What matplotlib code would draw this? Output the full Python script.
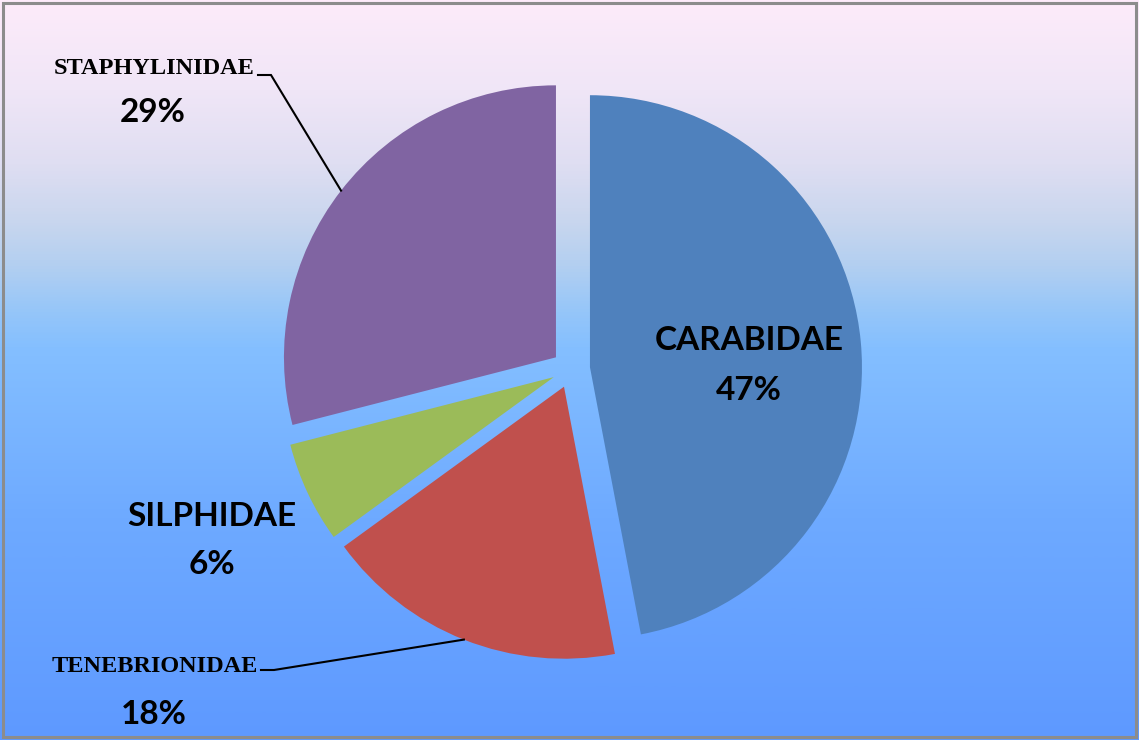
import numpy as np
import matplotlib.pyplot as plt
from matplotlib.colors import LinearSegmentedColormap
from matplotlib.patches import Rectangle

# data
families = ["CARABIDAE", "TENEBRIONIDAE", "SILPHIDAE", "STAPHYLINIDAE"]
shares = [47, 18, 6, 29]
colors = ["#4F81BD", "#C0504D", "#9BBB59", "#8064A2"]

W, H = 1139, 740
fig = plt.figure(figsize=(W / 100, H / 100), dpi=100)

# gradient background
bg = fig.add_axes([0, 0, 1, 1], zorder=0)
stops = [(0.0, (253, 235, 250)), (0.12, (240, 230, 247)), (0.22, (223, 222, 242)),
         (0.3, (200, 214, 238)), (0.36, (178, 207, 241)), (0.42, (150, 198, 249)),
         (0.47, (132, 191, 255)), (0.7, (110, 170, 255)), (1.0, (94, 153, 255))]
cmap = LinearSegmentedColormap.from_list(
    "bg", [(p, tuple(c / 255 for c in rgb)) for p, rgb in stops])
grad = np.linspace(0, 1, 512).reshape(-1, 1)
bg.imshow(grad, aspect="auto", cmap=cmap, extent=[0, 1, 1, 0])
bg.set_xlim(0, 1)
bg.set_ylim(1, 0)
bg.axis("off")
bg.add_patch(Rectangle((3 / W, 3 / H), 1 - 6 / W, 1 - 6 / H, transform=fig.transFigure,
                       fill=False, edgecolor="#8c8c8c", lw=2.2))

# pie axes: unit radius = 272 px, centre at (571, 369) px
R = 272.0
cx, cy = 571.0, 369.0
ax = fig.add_axes([0, 0, 1, 1], zorder=1)
ax.patch.set_alpha(0)
wedges, _ = ax.pie(shares, colors=colors, startangle=90, counterclock=False,
                   explode=[0.07] * 4, radius=1.0,
                   wedgeprops=dict(linewidth=0))
ax.set_xlim(-cx / R, (W - cx) / R)
ax.set_ylim(-(H - cy) / R, cy / R)
ax.set_aspect("auto")
ax.axis("off")

sans = ["Lato", "DejaVu Sans"]
serif = ["Liberation Serif", "DejaVu Serif"]


def px(x, y):
    return (x - cx) / R, (cy - y) / R


def edge_point(w):
    mid = np.deg2rad((w.theta1 + w.theta2) / 2)
    x0, y0 = w.center
    return x0 + w.r * np.cos(mid), y0 + w.r * np.sin(mid)


# CARABIDAE inside
ax.text(*px(749, 340), families[0], ha="center", va="center", fontsize=24,
        fontweight="bold", family=sans)
ax.text(*px(749, 390), f"{shares[0]}%", ha="center", va="center", fontsize=24,
        fontweight="bold", family=sans)

# SILPHIDAE outside
ax.text(*px(212, 517), families[2], ha="center", va="center", fontsize=24,
        fontweight="bold", family=sans)
ax.text(*px(212, 564), f"{shares[2]}%", ha="center", va="center", fontsize=24,
        fontweight="bold", family=sans)

# STAPHYLINIDAE with leader
ax.text(*px(154, 69), families[3], ha="center", va="center", fontsize=17.5,
        fontweight="bold", family=serif)
ax.text(*px(153, 113), f"{shares[3]}%", ha="center", va="center", fontsize=24,
        fontweight="bold", family=sans)
ex, ey = edge_point(wedges[3])
s0, s1 = px(258, 75), px(271, 75)
ax.plot([s0[0], s1[0], ex], [s0[1], s1[1], ey], color="black", lw=1.5,
        solid_joinstyle="miter")

# TENEBRIONIDAE with leader
ax.text(*px(155, 667), families[1], ha="center", va="center", fontsize=17.5,
        fontweight="bold", family=serif)
ax.text(*px(154, 714), f"{shares[1]}%", ha="center", va="center", fontsize=24,
        fontweight="bold", family=sans)
ex, ey = edge_point(wedges[1])
s0, s1 = px(261, 670), px(274, 670)
ax.plot([s0[0], s1[0], ex], [s0[1], s1[1], ey], color="black", lw=1.5,
        solid_joinstyle="miter")

fig.savefig("out.png", dpi=100)
